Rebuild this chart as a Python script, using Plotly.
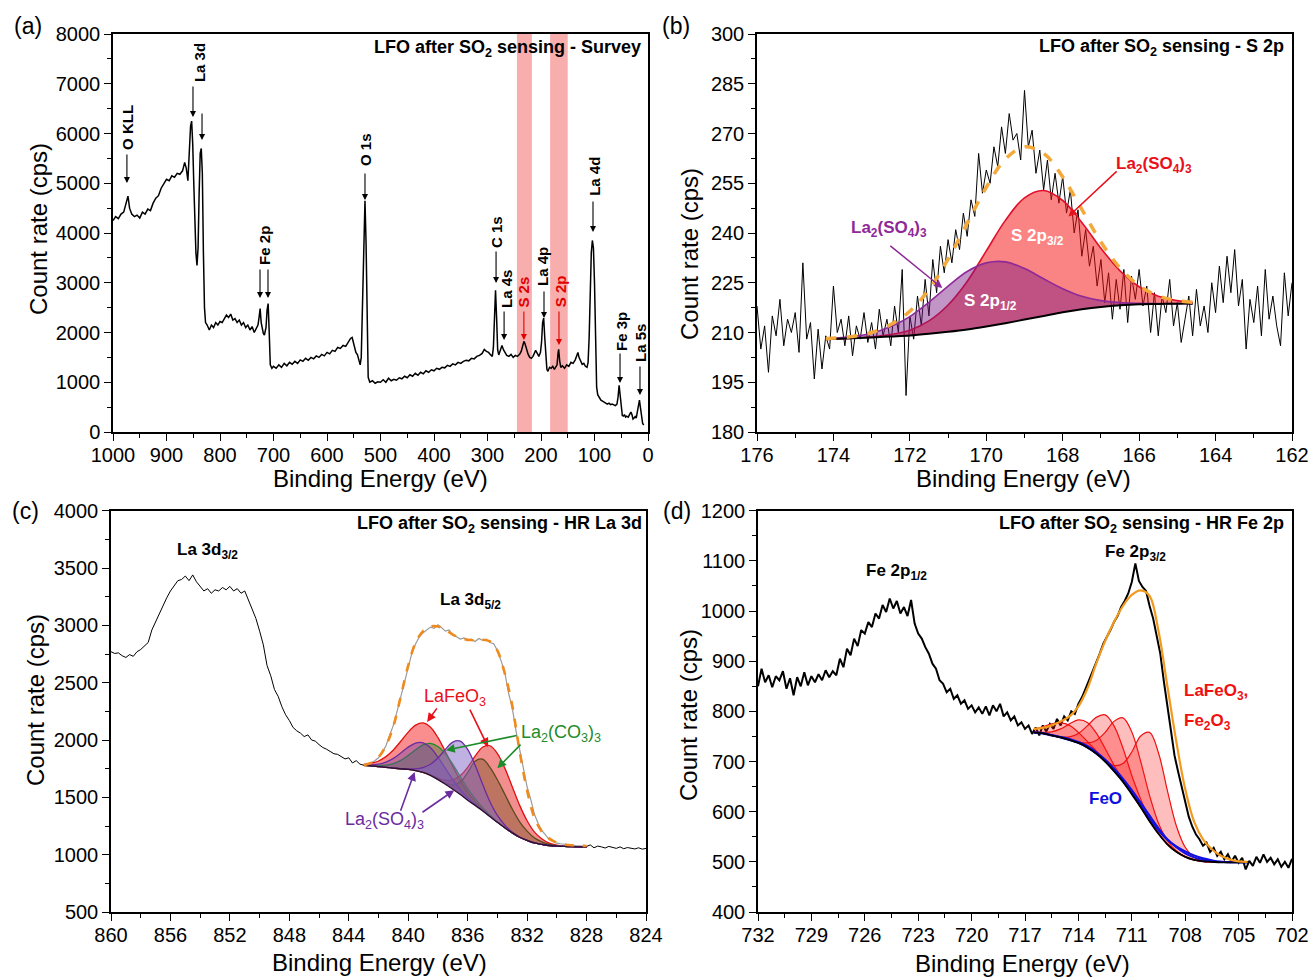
import numpy as np
import plotly.graph_objects as go

W, H = 1311, 977
FONT = "Liberation Sans, Arial, sans-serif"

# ---------------- (a) survey ----------------
be_a = [1000,995,990,985,980,975,972,969,965,960,955,950,945,940,935,930,925,920,915,910,905,900,895,890,885,880,875,870,866,863,860,857,855,853,851,849,847,845,843,841,839,837,835,833,831,829,827,824,820,816,812,808,804,800,796,792,788,784,780,776,772,768,764,760,756,752,748,744,740,736,732,729,727,725,723,721,719,717,714,712,710,708,706,703,700,695,690,685,680,675,670,665,660,655,650,645,640,635,630,625,620,615,610,605,600,595,590,585,580,575,570,565,560,556,553,550,546,543,540,538,536,533,531,529,527,525,523,520,515,510,505,500,495,490,485,480,475,470,465,460,455,450,445,440,435,430,425,420,415,410,405,400,395,390,385,380,375,370,365,360,355,350,345,340,335,330,325,320,315,310,306,302,298,294,291,289,287,285,283,281,279,276,273,270,267,264,260,256,252,248,244,240,237,234,232,230,227,224,221,218,215,212,210,207,204,201,199,197,195,193,191,189,187,184,181,178,175,172,170,168,167,165,163,160,156,152,148,144,140,136,133,131,129,126,123,120,117,114,112,110,108,106,104,102,100,98,96,94,91,88,85,82,79,76,73,70,67,64,61,58,56,54,52,50,48,46,44,42,40,37,34,32,30,28,26,24,22,20,18,16,14,12,10,8]
cps_a = [4250,4330,4290,4380,4420,4600,4740,4500,4380,4330,4360,4300,4420,4380,4480,4450,4600,4700,4750,4900,5000,5080,5050,5150,5120,5200,5180,5250,5420,5300,5050,5600,6150,6250,5800,5000,4200,3600,3350,3700,4800,5600,5700,5200,3600,2500,2200,2150,2050,2150,2100,2200,2150,2220,2200,2280,2350,2300,2370,2250,2280,2200,2250,2150,2200,2100,2150,2050,2120,2000,2080,2150,2300,2480,2200,2050,1980,1950,2100,2450,2580,2000,1350,1280,1320,1280,1350,1300,1380,1330,1400,1360,1420,1380,1450,1420,1480,1440,1500,1470,1530,1500,1560,1530,1600,1570,1640,1620,1700,1680,1740,1720,1800,1880,1900,1750,1600,1550,1400,1350,1500,2800,4200,4650,3800,1900,1100,1000,1030,980,1010,1000,1050,1000,1080,1030,1060,1040,1090,1070,1120,1090,1150,1120,1180,1140,1200,1170,1230,1200,1250,1230,1280,1260,1300,1290,1340,1320,1370,1350,1400,1380,1420,1440,1430,1480,1470,1520,1540,1580,1660,1620,1600,1550,1520,1700,2400,2850,2300,1650,1550,1650,1740,1650,1580,1540,1520,1560,1500,1540,1520,1560,1620,1720,1820,1780,1650,1560,1500,1480,1520,1600,1640,1580,1520,1600,1800,2200,2290,1900,1500,1260,1220,1300,1280,1320,1260,1300,1350,1600,1660,1420,1300,1330,1280,1350,1320,1400,1380,1450,1560,1600,1500,1420,1360,1380,1320,1300,1400,1900,2900,3600,3850,3700,3000,1800,900,750,680,640,620,600,580,560,580,550,560,540,530,560,700,940,700,420,330,320,350,300,320,300,370,400,350,260,280,310,280,400,550,640,480,250,170,140]
s_bands = [(217, 245), (150, 183)]

# ---------------- (b) S 2p ----------------
cps_b = [218,205,212,198,215,209,220,206,214,210,216,204,231,208,213,196,211,199,209,
         205,224,210,214,206,215,203,212,208,216,207,213,205,217,209,214,206,218,210,229,191,215,208,221,212,226,215,232,222,236,228,238,231,241,235,246,239,250,245,264,252,259,255,266,260,272,264,276,268,270,262,283,266,271,258,265,253,262,250,258,249,257,246,253,240,247,233,241,230,236,224,232,219,228,214,226,217,229,213,227,220,229,218,224,210,222,209,221,216,226,212,219,207,214,221,209,223,212,218,210,225,216,230,219,233,222,235,218,226,205,220,213,224,209,229,214,221,212,206,228,215,225]
grid_b = [174.2,173.5,173.0,172.5,172.0,171.5,171.0,170.5,170.0,169.5,169.0,168.5,168.0,167.5,167.0,166.5,166.0,165.5,165.0,164.6]
bg_b = [208.0,208.3,208.5,208.8,209.1,209.6,210.2,210.9,211.8,212.8,213.9,215.0,216.1,217.0,217.7,218.2,218.5,218.6,218.7,218.7]
p12_b = [208.1,208.8,209.8,211.8,214.8,219.1,224.0,228.4,231.0,231.3,229.3,226.2,223.2,220.9,219.6,219.0,218.8,218.7,218.7,218.7]
p32_b = [208.0,208.3,208.7,209.4,210.7,213.5,218.3,225.4,234.6,243.8,250.6,252.8,249.8,243.2,235.4,228.6,223.8,220.9,219.6,219.1]
env_b = [208.1,208.8,210.0,212.4,216.4,223.0,232.1,242.9,253.8,262.3,266.0,264.0,256.9,247.1,237.3,229.4,224.1,221.0,219.6,219.1]

# ---------------- (c) La 3d ----------------
cps_c = [2770,2755,2760,2735,2720,2745,2730,2770,2790,2820,2850,2960,3030,3100,3180,3240,3300,3340,3390,3400,3430,3390,3440,3380,3340,3300,3320,3280,3310,3300,3330,3310,3340,3300,3320,3280,3300,3220,3130,3060,2950,2830,2650,2560,2440,2380,2290,2220,2170,2110,2080,2060,2030,2045,2000,1990,1960,1935,1920,1900,1880,1875,1855,1835,1845,1800,1820,1790,1780,1790,1800,1820,1845,1890,1950,2040,2130,2250,2380,2510,2640,2760,2840,2900,2935,2960,2985,2975,3005,2980,2950,2960,2915,2900,2880,2890,2865,2880,2860,2885,2870,2880,2850,2840,2780,2690,2590,2410,2280,2080,1920,1740,1590,1480,1350,1270,1210,1170,1130,1115,1100,1095,1090,1085,1082,1080,1078,1075,1072,1085,1060,1075,1068,1058,1072,1062,1055,1068,1052,1062,1055,1050,1060,1048,1055]
grid_c = [843,842.5,842,841.5,841,840.5,840,839.5,839,838.5,838,837.5,837,836.5,836,835.5,835,834.5,834,833.5,833,832.5,832,831.5,831,830.5,830,829.5,829,828.5,828]
bg_c = [1778,1774,1768,1762,1755,1749,1743,1733,1718,1692,1655,1614,1570,1524,1475,1430,1383,1333,1282,1235,1190,1152,1125,1102,1090,1080,1075,1072,1070,1068,1067]
lafeo_1_c = [1788,1797,1817,1855,1913,1989,2069,2130,2149,2112,2021,1899,1769,1648,1544,1465,1398,1339,1284,1235,1190,1152,1125,1102,1090,1080,1075,1072,1070,1068,1067]
lafeo_2_c = [1778,1774,1768,1762,1755,1749,1743,1733,1718,1697,1668,1649,1652,1690,1762,1859,1937,1950,1882,1755,1592,1430,1296,1196,1136,1100,1083,1075,1071,1068,1067]
co3_1_c = [1779,1777,1776,1781,1794,1823,1866,1915,1957,1971,1944,1880,1787,1682,1576,1488,1412,1346,1287,1235,1190,1152,1125,1102,1090,1080,1075,1072,1070,1068,1067]
co3_2_c = [1778,1774,1768,1762,1755,1749,1743,1733,1718,1692,1658,1623,1607,1634,1716,1815,1833,1762,1653,1527,1398,1287,1205,1145,1111,1089,1079,1073,1070,1068,1067]
so4_1_c = [1781,1783,1789,1807,1840,1887,1938,1973,1975,1932,1850,1752,1655,1569,1496,1438,1386,1333,1282,1235,1190,1152,1125,1102,1090,1080,1075,1072,1070,1068,1067]
so4_2_c = [1778,1774,1768,1762,1755,1750,1748,1748,1760,1789,1843,1918,1982,1991,1918,1781,1616,1462,1342,1258,1198,1152,1125,1102,1090,1080,1075,1072,1070,1068,1067]
env_c = [1780,1800,1850,1950,2120,2380,2650,2850,2950,2990,2990,2960,2920,2890,2875,2870,2875,2860,2780,2580,2300,1900,1560,1320,1200,1140,1105,1090,1082,1078,1075]

# ---------------- (d) Fe 2p ----------------
cps_d = [850,885,858,872,848,870,862,880,845,866,832,868,850,878,852,870,858,874,862,882,868,880,872,905,888,925,912,945,930,962,955,978,968,995,985,1012,998,1025,1005,1020,995,1008,990,1022,975,955,945,928,915,895,885,862,855,838,845,825,832,815,822,805,812,798,808,795,810,792,812,800,815,790,798,782,790,772,778,765,772,755,768,752,772,760,775,765,785,772,790,782,800,795,815,828,845,862,880,898,915,935,948,962,978,990,1008,1020,1035,1058,1095,1060,1048,1040,1010,985,950,915,860,810,760,712,680,648,618,590,570,555,545,532,538,520,528,512,520,505,515,500,512,498,508,485,502,492,510,498,515,500,508,495,505,490,500,488,506]
grid_d = [716.5,716,715.5,715,714.5,714,713.5,713,712.5,712,711.5,711,710.5,710,709.5,709,708.5,708,707.5,707,706.5,706,705.5,705,704.5]
bg_d = [758,756,752,748,743,737,728,716,700,681,660,635,609,581,556,535,520,510,504,501,500,499,499,499,499]
red_d = [
    [764,769,775,777,772,758,740,721,702,681,660,635,609,581,556,535,520,510,504,501,500,499,499,499,499],
    [758,758,759,765,775,783,778,757,726,693,664,636,609,581,556,535,520,510,504,501,500,499,499,499,499],
    [758,756,752,749,749,756,771,788,793,771,727,672,625,586,557,535,520,510,504,501,500,499,499,499,499],
    [758,756,752,748,744,739,737,742,758,780,787,759,700,632,577,542,522,510,504,501,500,499,499,499,499],
    [758,756,752,748,743,737,728,716,703,692,696,719,751,758,717,642,572,529,509,502,500,499,499,499,499],
]
feo_d = [
    [758,756,752,748,743,737,728,716,701,682,661,637,612,586,563,544,531,521,513,507,503,500,499,499,499],
    [758,757,753,749,745,739,731,719,704,686,666,643,618,592,567,545,529,517,509,504,501,500,499,499,499],
]
env_d = [765,767,772,780,790,810,845,895,940,978,1010,1032,1041,1030,960,850,740,645,580,545,525,512,505,501,500]

# ---------------- build figure ----------------
fig = go.Figure()

def P(xp, yp):
    return xp / W, 1 - yp / H

def axis_pair(n, xdom, ydom, xr, xd, xm, yr, yd, ym, xt0, yt0):
    sfx = "" if n == 1 else str(n)
    common = dict(ticks="outside", ticklen=7, tickwidth=1.3, tickcolor="black",
                  showline=True, linecolor="black", linewidth=1.5, mirror=True,
                  showgrid=False, zeroline=False, automargin=False, ticklabeloverflow="allow",
                  tickfont=dict(family=FONT, size=20, color="black"))
    fig.layout["xaxis" + sfx] = dict(domain=xdom, range=xr, tickmode="linear", tick0=xt0, dtick=xd,
                                     anchor="y" + sfx, ticklabelstandoff=-3,
                                     minor=dict(ticks="outside", ticklen=4, dtick=xm, tickcolor="black", tickwidth=1.2),
                                     **common)
    fig.layout["yaxis" + sfx] = dict(domain=ydom, range=yr, tickmode="linear", tick0=yt0, dtick=yd,
                                     anchor="x" + sfx,
                                     minor=dict(ticks="outside", ticklen=4, dtick=ym, tickcolor="black", tickwidth=1.2),
                                     **common)

top = [1 - 432 / H, 1 - 34 / H]
bot = [1 - 912 / H, 1 - 510.7 / H]
axis_pair(1, [113 / W, 648 / W], top, [1000, 0], 100, 50, [0, 8000], 1000, 500, 0, 0)
axis_pair(2, [757 / W, 1292 / W], top, [176, 162], 2, 1, [180, 300], 15, 7.5, 162, 180)
axis_pair(3, [111 / W, 646 / W], bot, [860, 824], 4, 2, [500, 4000], 500, 250, 824, 500)
axis_pair(4, [758 / W, 1292 / W], bot, [732, 702], 3, 1.5, [400, 1200], 100, 50, 702, 400)

def line(x, y, color, width, n, dash=None, shape="linear"):
    sfx = "" if n == 1 else str(n)
    fig.add_trace(go.Scatter(x=x, y=y, mode="lines", xaxis="x" + sfx, yaxis="y" + sfx,
                             line=dict(color=color, width=width, dash=dash, shape=shape),
                             hoverinfo="skip", showlegend=False, connectgaps=False))

def band(grid, comp, base, fillc, linec, n, lw=1.3):
    sfx = "" if n == 1 else str(n)
    fig.add_trace(go.Scatter(x=list(grid) + list(grid)[::-1], y=list(comp) + list(base)[::-1],
                             mode="lines", fill="toself", fillcolor=fillc,
                             line=dict(width=0, shape="spline", smoothing=0.8),
                             xaxis="x" + sfx, yaxis="y" + sfx, hoverinfo="skip", showlegend=False))
    line(grid, comp, linec, lw, n, shape="spline")

# (a)
for lo, hi in s_bands:
    fig.add_shape(type="rect", xref="x", yref="y domain", x0=lo, x1=hi, y0=0, y1=1,
                  fillcolor="rgba(248,160,160,0.85)", line=dict(width=0), layer="below")
line(be_a, cps_a, "black", 1.5, 1)

# (b)
be_b = list(np.round(176 - 0.1 * np.arange(len(cps_b)), 2))
line(be_b, cps_b, "black", 1.0, 2)
band(grid_b, p32_b, bg_b, "rgba(245,20,20,0.52)", "#E0102A", 2, 1.6)
band(grid_b, p12_b, bg_b, "rgba(120,20,130,0.45)", "#8E2A98", 2, 1.6)
line(grid_b, bg_b, "black", 2.0, 2, shape="spline")
line(grid_b, env_b, "#F4A93A", 3.5, 2, dash="dash", shape="spline")

# (c)
be_c = list(np.round(860 - 0.25 * np.arange(len(cps_c)), 2))
blk_c = [v if (b >= 843 or b <= 828) else None for b, v in zip(be_c, cps_c)]
gry_c = [v if (828 <= b <= 843) else None for b, v in zip(be_c, cps_c)]
line(be_c, blk_c, "black", 1.0, 3)
line(be_c, gry_c, "#9a9a9a", 1.2, 3)
band(grid_c, lafeo_1_c, bg_c, "rgba(245,30,30,0.50)", "#E01010", 3)
band(grid_c, lafeo_2_c, bg_c, "rgba(230,30,30,0.50)", "#E01010", 3)
band(grid_c, co3_1_c, bg_c, "rgba(40,120,50,0.40)", "#1E8B2A", 3)
band(grid_c, co3_2_c, bg_c, "rgba(110,80,30,0.40)", "#5A4A1A", 3)
band(grid_c, so4_1_c, bg_c, "rgba(110,60,170,0.40)", "#6A2CA0", 3)
band(grid_c, so4_2_c, bg_c, "rgba(130,100,200,0.50)", "#6A2CA0", 3)
line(grid_c, bg_c, "#301030", 1.3, 3, shape="spline")
line(grid_c, env_c, "#F08A1C", 2.6, 3, dash="dash", shape="spline")

# (d)
be_d = list(np.round(732 - 0.2 * np.arange(len(cps_d)), 2))
line(be_d, cps_d, "black", 2.0, 4)
for comp in red_d:
    band(grid_d, comp, bg_d, "rgba(255,20,20,0.28)", "#F01010", 4, 1.2)
for comp in feo_d:
    line(grid_d, comp, "#1010E0", 2.0, 4, shape="spline")
line(grid_d, bg_d, "black", 1.8, 4, shape="spline")
line(grid_d, env_d, "#F39A1E", 2.2, 4, shape="spline")

# ---------------- annotations ----------------
ann = []

def txt(xp, yp, text, size, color="black", bold=False, xanchor="center", angle=0):
    x, y = P(xp, yp)
    t = "<b>" + text + "</b>" if bold else text
    ann.append(dict(x=x, y=y, xref="paper", yref="paper", text=t, showarrow=False,
                    xanchor=xanchor, yanchor="middle", textangle=angle,
                    font=dict(family=FONT, size=size, color=color)))

def dtxt(n, x, y, text, size, color="black", bold=True, xanchor="center", angle=0):
    sfx = "" if n == 1 else str(n)
    t = "<b>" + text + "</b>" if bold else text
    ann.append(dict(x=x, y=y, xref="x" + sfx, yref="y" + sfx, text=t, showarrow=False,
                    xanchor=xanchor, yanchor="middle", textangle=angle,
                    font=dict(family=FONT, size=size, color=color)))

def arrow(n, x, y, ax, ay, color="black", width=1.2):
    sfx = "" if n == 1 else str(n)
    ann.append(dict(x=x, y=y, ax=ax, ay=ay, xref="x" + sfx, yref="y" + sfx,
                    axref="x" + sfx, ayref="y" + sfx, text="", showarrow=True,
                    font=dict(family=FONT, size=10, color=color),
                    arrowhead=2, arrowsize=1.1, arrowwidth=width, arrowcolor=color, standoff=0))

# panel letters
txt(28, 26, "(a)", 23); txt(676, 26, "(b)", 23); txt(25, 511, "(c)", 23); txt(677, 511, "(d)", 23)
# inner titles
txt(643, 48, "LFO after SO<sub>2</sub> sensing - Survey", 18, bold=True, xanchor="right")
txt(1286, 47, "LFO after SO<sub>2</sub> sensing - S 2p", 18, bold=True, xanchor="right")
txt(644, 524, "LFO after SO<sub>2</sub> sensing - HR La 3d", 18, bold=True, xanchor="right")
txt(1286, 524, "LFO after SO<sub>2</sub> sensing - HR Fe 2p", 18, bold=True, xanchor="right")
# axis titles
for xp, yp in [(380, 479), (1023, 479), (379, 962), (1022, 963)]:
    txt(xp, yp, "Binding Energy (eV)", 24)
for xp, yp in [(39, 229), (689, 254), (35, 700), (688, 715)]:
    txt(xp, yp, "Count rate (cps)", 24, angle=-90)

# (a) peak labels: (text, text BE, text value, color)
labels_a = [("O KLL", 974, 6130, "black"), ("La 3d", 837, 7420, "black"), ("Fe 2p", 716, 3760, "black"),
            ("O 1s", 527, 5670, "black"), ("C 1s", 284, 4020, "black"), ("La 4s", 265, 2880, "black"),
            ("S 2s", 232, 2820, "#E00000"), ("La 4p", 196, 3320, "black"), ("S 2p", 164.5, 2830, "#E00000"),
            ("La 4d", 99, 5130, "black"), ("Fe 3p", 50.5, 2030, "black"), ("La 5s", 13, 1790, "black")]
for t, x, y, c in labels_a:
    dtxt(1, x, y, t, 15, color=c, angle=-90)
# (a) arrows: (BE, tip, tail, color)
arrows_a = [(974, 5005, 5608, "black"), (850.5, 6332, 6975, "black"), (833.6, 5869, 6432, "black"),
            (725.2, 2693, 3296, "black"), (710.3, 2693, 3296, "black"), (529, 4663, 5226, "black"),
            (284, 2995, 3658, "black"), (269, 1849, 2452, "black"), (232, 1849, 2452, "#E00000"),
            (194.4, 2291, 2854, "black"), (166.4, 1749, 2452, "#E00000"), (102.8, 4020, 4663, "black"),
            (52.3, 985, 1608, "black"), (15, 744, 1347, "black")]
for x, tip, tail, c in arrows_a:
    arrow(1, x, tip, x, tail, color=c, width=1.1)

# (b)
dtxt(2, 165.6, 260.5, "La<sub>2</sub>(SO<sub>4</sub>)<sub>3</sub>", 17, color="#E8101A")
arrow(2, 167.85, 245, 166.55, 259, color="#E8101A", width=1.5)
dtxt(2, 172.55, 241.2, "La<sub>2</sub>(SO<sub>4</sub>)<sub>3</sub>", 17, color="#8E2A98")
arrow(2, 171.15, 223.4, 172.55, 236.5, color="#8E2A98", width=1.5)
dtxt(2, 168.66, 238.8, "S 2p<sub>3/2</sub>", 17, color="white")
dtxt(2, 169.9, 219.2, "S 2p<sub>1/2</sub>", 17, color="white")

# (c)
dtxt(3, 853.5, 3648, "La 3d<sub>3/2</sub>", 17)
dtxt(3, 835.8, 3212, "La 3d<sub>5/2</sub>", 17)
dtxt(3, 836.85, 2374, "LaFeO<sub>3</sub>", 18, color="#E8101A", bold=False)
arrow(3, 838.73, 2158, 838.0, 2289, color="#E8101A", width=1.6)
arrow(3, 834.63, 1940, 835.9, 2278, color="#E8101A", width=1.6)
dtxt(3, 829.7, 2060, "La<sub>2</sub>(CO<sub>3</sub>)<sub>3</sub>", 18, color="#1E8B2A", bold=False)
arrow(3, 837.46, 1911, 832.6, 2042, color="#1E8B2A", width=1.6)
arrow(3, 834.0, 1754, 832.34, 1973, color="#1E8B2A", width=1.6)
dtxt(3, 841.6, 1301, "La<sub>2</sub>(SO<sub>4</sub>)<sub>3</sub>", 18, color="#6A2CA0", bold=False)
arrow(3, 839.57, 1722, 840.55, 1370, color="#6A2CA0", width=1.6)
arrow(3, 836.9, 1562, 839.14, 1361, color="#6A2CA0", width=1.6)

# (d)
dtxt(4, 724.2, 1078, "Fe 2p<sub>1/2</sub>", 17)
dtxt(4, 710.8, 1116, "Fe 2p<sub>3/2</sub>", 17)
dtxt(4, 708.18, 838, "LaFeO<sub>3</sub>,", 17, color="#F01010", xanchor="left")
dtxt(4, 708.18, 778, "Fe<sub>2</sub>O<sub>3</sub>", 17, color="#F01010", xanchor="left")
dtxt(4, 712.47, 627, "FeO", 17, color="#1010E0")

fig.update_layout(width=W, height=H, margin=dict(l=0, r=0, t=0, b=0, autoexpand=False),
                  paper_bgcolor="white", plot_bgcolor="white", annotations=ann,
                  font=dict(family=FONT, color="black"), showlegend=False)

fig.write_html("out.html", config={"displayModeBar": False},
               post_script="document.body.style.margin='0';document.body.style.overflow='hidden';")
